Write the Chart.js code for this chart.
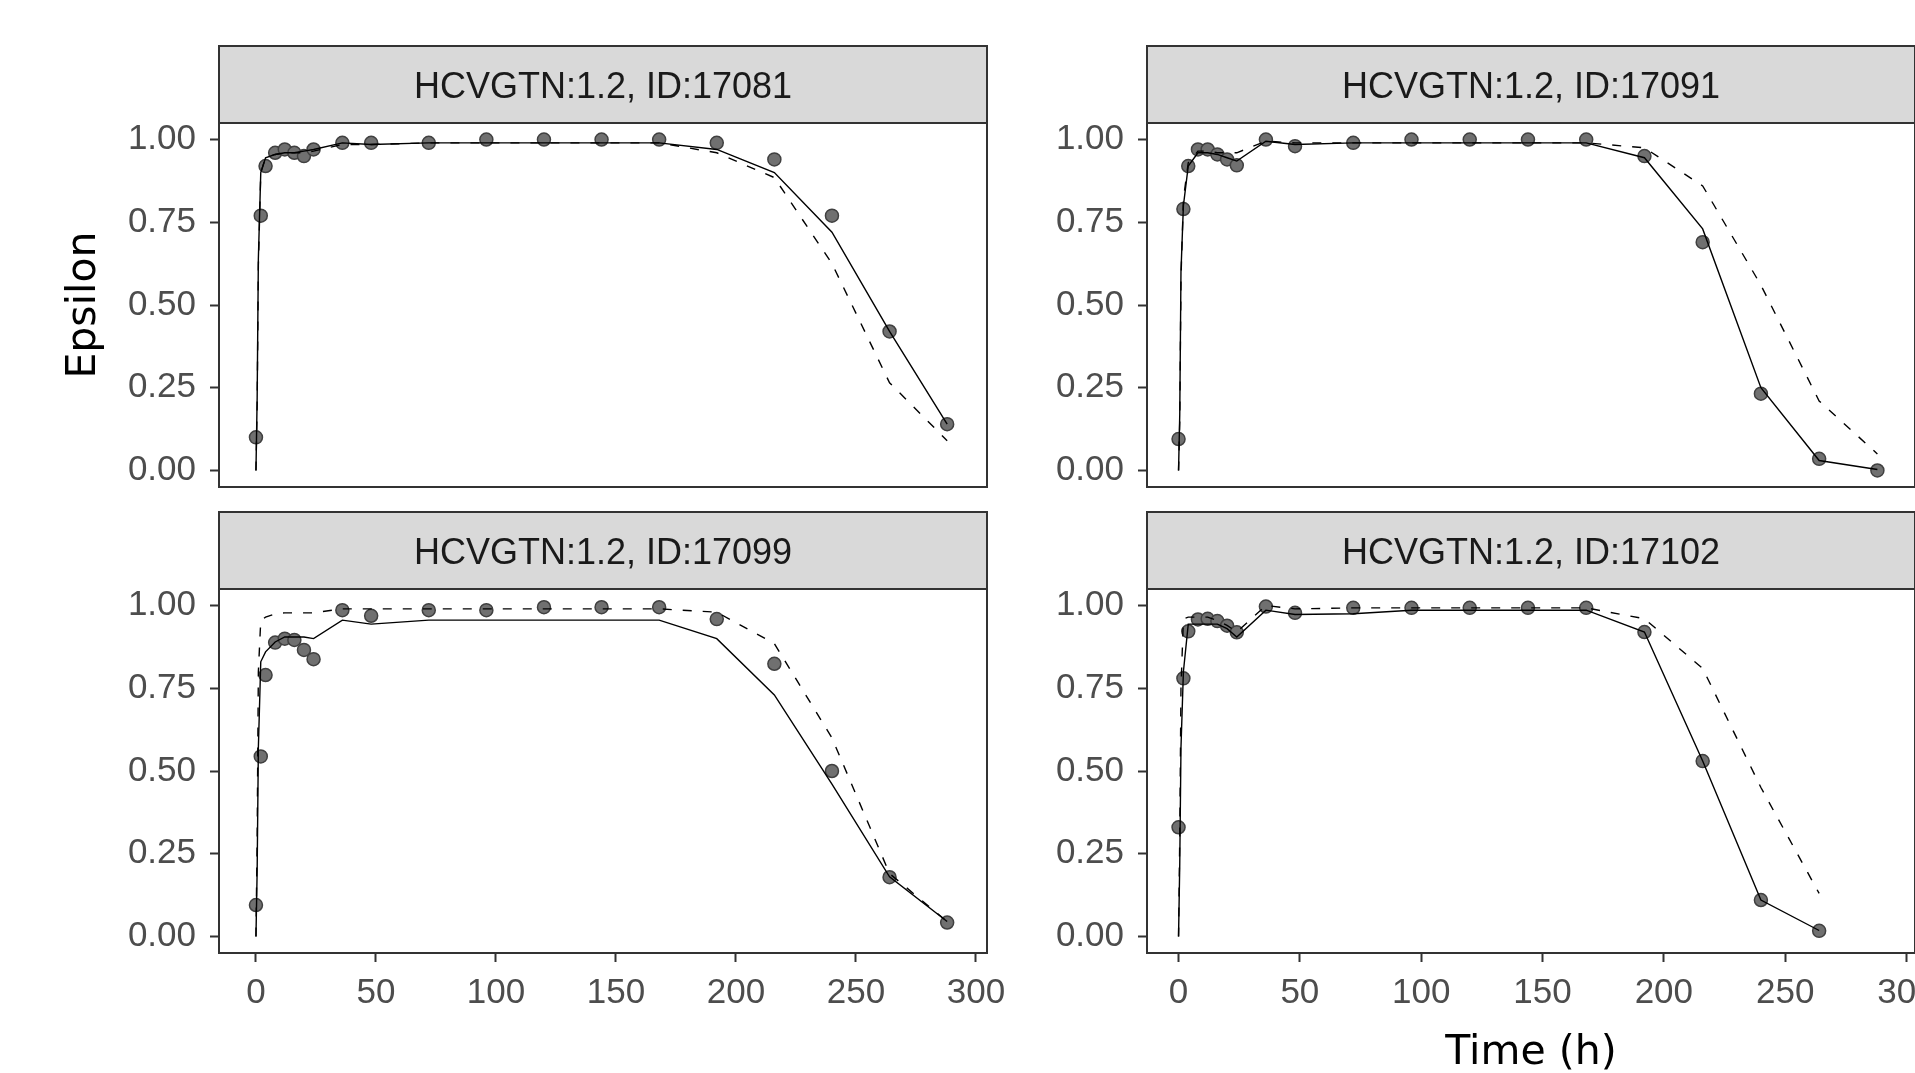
<!DOCTYPE html>
<html>
<head>
<meta charset="utf-8">
<title>Epsilon by time</title>
<script src="https://cdn.jsdelivr.net/npm/chart.js@4/dist/chart.umd.min.js"></script>
<style>
  html, body { margin: 0; padding: 0; background: #fff; overflow: hidden; }
  body { width: 1915px; height: 1073px; position: relative; }
  canvas { position: absolute; }
</style>
</head>
<body>
<canvas id="p17081" width="1020" height="500" style="left:0px;top:0px"></canvas>
<canvas id="p17091" width="990" height="500" style="left:928px;top:0px"></canvas>
<canvas id="p17099" width="1020" height="607" style="left:0px;top:466px"></canvas>
<canvas id="p17102" width="990" height="607" style="left:928px;top:466px"></canvas>
<script>
// sampling times (h)
var obsTimes = [0, 2, 4, 8, 12, 16, 20, 24, 36, 48, 72, 96, 120, 144, 168, 192, 216, 240, 264, 288];
var predTimes = [0, 0.5, 1, 2, 4, 8, 12, 16, 20, 24, 36, 48, 72, 96, 120, 144, 168, 192, 216, 240, 264, 288];
var yTicks = [0, 0.25, 0.5, 0.75, 1];
var xTicks = [0, 50, 100, 150, 200, 250, 300];
// visible time window of the left and right column
var xRangeLeft = [-15.4, 304.6];
var xRangeRight = [-13.0, 303.5];

// ID 17081
var obs17081 = [0.10, 0.77, 0.92, 0.96, 0.97, 0.96, 0.95, 0.97, 0.99, 0.99, 0.99, 1.00, 1.00, 1.00, 1.00, 0.99, 0.94, 0.77, 0.42, 0.14];
var solid17081 = [0, 0.22, 0.64, 0.90, 0.945, 0.955, 0.96, 0.96, 0.965, 0.97, 0.99, 0.985, 0.99, 0.99, 0.99, 0.99, 0.99, 0.97, 0.90, 0.72, 0.42, 0.14];
var dashed17081 = [0, 0.20, 0.62, 0.90, 0.945, 0.955, 0.96, 0.96, 0.96, 0.965, 0.985, 0.985, 0.99, 0.99, 0.99, 0.99, 0.99, 0.96, 0.885, 0.625, 0.265, 0.09];

// ID 17091
var obs17091 = [0.095, 0.79, 0.92, 0.97, 0.97, 0.955, 0.94, 0.922, 1.0, 0.98, 0.99, 1.0, 1.0, 1.0, 1.0, 0.95, 0.69, 0.232, 0.035, 0.0];
var solid17091 = [0, 0.17, 0.60, 0.80, 0.92, 0.96, 0.96, 0.955, 0.945, 0.935, 0.995, 0.985, 0.99, 0.99, 0.99, 0.99, 0.99, 0.945, 0.73, 0.25, 0.03, 0.003];
var dashed17091 = [0, 0.15, 0.58, 0.82, 0.93, 0.965, 0.965, 0.96, 0.96, 0.96, 0.995, 0.99, 0.99, 0.99, 0.99, 0.99, 0.99, 0.975, 0.86, 0.56, 0.21, 0.05];

// ID 17099
var obs17099 = [0.095, 0.544, 0.79, 0.888, 0.90, 0.896, 0.866, 0.838, 0.986, 0.969, 0.986, 0.986, 0.995, 0.995, 0.995, 0.959, 0.824, 0.50, 0.179, 0.042];
var solid17099 = [0, 0.20, 0.57, 0.83, 0.86, 0.89, 0.905, 0.905, 0.905, 0.90, 0.956, 0.944, 0.956, 0.956, 0.956, 0.956, 0.956, 0.90, 0.73, 0.46, 0.18, 0.045];
var dashed17099 = [0, 0.30, 0.80, 0.955, 0.965, 0.975, 0.978, 0.978, 0.978, 0.978, 0.99, 0.99, 0.99, 0.99, 0.99, 0.99, 0.99, 0.98, 0.885, 0.60, 0.19, 0.045];

// ID 17102 (stops at 264 h)
var obs17102 = [0.33, 0.78, 0.922, 0.958, 0.96, 0.953, 0.939, 0.919, 0.997, 0.978, 0.993, 0.993, 0.993, 0.993, 0.993, 0.92, 0.53, 0.11, 0.017];
var solid17102 = [0, 0.22, 0.57, 0.80, 0.944, 0.944, 0.944, 0.944, 0.93, 0.905, 0.986, 0.973, 0.975, 0.986, 0.986, 0.986, 0.986, 0.92, 0.53, 0.11, 0.018];
var dashed17102 = [0, 0.30, 0.75, 0.96, 0.965, 0.965, 0.965, 0.955, 0.94, 0.92, 1.0, 0.99, 0.993, 0.993, 0.993, 0.993, 0.993, 0.96, 0.81, 0.45, 0.13];

var tickFont = { family: "'Liberation Sans', Arial, sans-serif", size: 35 };
var titleFont = { family: "'DejaVu Sans', sans-serif", size: 41 };

function pairs(times, values) {
  return values.map(function (v, i) { return { x: times[i], y: v }; });
}

// grey facet strip on top + dark frame round the panel
var panelFrame = {
  id: 'panelFrame',
  afterDraw: function (chart, args, opts) {
    var a = chart.chartArea;
    var ctx = chart.ctx;
    var w = a.right - a.left;
    ctx.save();
    ctx.lineWidth = 2;
    ctx.strokeStyle = '#333333';
    ctx.fillStyle = '#d9d9d9';
    ctx.fillRect(a.left, a.top - 77, w, 77);
    ctx.strokeRect(a.left, a.top - 77, w, 77);
    ctx.strokeRect(a.left, a.top, w, a.bottom - a.top);
    ctx.fillStyle = '#1a1a1a';
    ctx.font = "36px 'Liberation Sans', Arial, sans-serif";
    ctx.textAlign = 'center';
    ctx.textBaseline = 'middle';
    ctx.fillText(opts.label, (a.left + a.right) / 2, a.top - 35);
    ctx.restore();
  }
};

function makePanel(id, label, obs, solid, dashed, xRange, bottomRow, yTitle, xTitle) {
  var canvas = document.getElementById(id);
  var ctx = canvas.getContext('2d');
  return new Chart(ctx, {
    type: 'line',
    data: {
      datasets: [
        {
          data: pairs(predTimes, solid),
          borderColor: '#000000', borderWidth: 1.4,
          pointRadius: 0, tension: 0, fill: false
        },
        {
          data: pairs(predTimes, dashed),
          borderColor: '#000000', borderWidth: 1.4, borderDash: [9, 11],
          pointRadius: 0, tension: 0, fill: false
        },
        {
          data: pairs(obsTimes, obs),
          showLine: false,
          pointRadius: 6.5,
          pointBackgroundColor: '#707070',
          pointBorderColor: '#404040',
          pointBorderWidth: 1.5
        }
      ]
    },
    options: {
      responsive: false,
      animation: false,
      layout: {
        autoPadding: false,
        padding: { top: 123, right: canvas.width - 987, bottom: bottomRow ? 0 : 13, left: 0 }
      },
      plugins: {
        legend: { display: false },
        tooltip: { enabled: false },
        panelFrame: { label: label }
      },
      scales: {
        x: {
          type: 'linear',
          min: xRange[0],
          max: xRange[1],
          display: bottomRow,
          afterBuildTicks: function (s) {
            s.ticks = xTicks.map(function (v) { return { value: v }; });
          },
          afterFit: function (s) {
            s.height = bottomRow ? 120 : 0;
            s.paddingLeft = 0;
            s.paddingRight = 0;
          },
          border: { display: false },
          grid: {
            drawOnChartArea: false, drawTicks: true, tickLength: 9,
            tickColor: '#333333', tickWidth: 2
          },
          ticks: {
            autoSkip: false, maxRotation: 0, padding: 10,
            color: '#4d4d4d', font: tickFont,
            callback: function (v) { return String(v); }
          },
          title: {
            display: xTitle, text: 'Time (h)', color: '#000000',
            font: titleFont, padding: { top: 0, bottom: -5 }
          }
        },
        y: {
          type: 'linear',
          min: -0.05,
          max: 1.05,
          afterBuildTicks: function (s) {
            s.ticks = yTicks.map(function (v) { return { value: v }; });
          },
          afterFit: function (s) {
            s.width = 219;
            s.paddingTop = 0;
            s.paddingBottom = 0;
          },
          border: { display: false },
          grid: {
            drawOnChartArea: false, drawTicks: true, tickLength: 9,
            tickColor: '#333333', tickWidth: 2
          },
          ticks: {
            padding: 14, color: '#4d4d4d', font: tickFont,
            callback: function (v) { return v.toFixed(2); }
          },
          title: {
            display: yTitle, text: 'Epsilon', color: '#000000',
            font: titleFont, padding: { top: 60, bottom: 0 }
          }
        }
      }
    },
    plugins: [panelFrame]
  });
}

makePanel('p17081', 'HCVGTN:1.2, ID:17081', obs17081, solid17081, dashed17081, xRangeLeft, false, true, false);
makePanel('p17091', 'HCVGTN:1.2, ID:17091', obs17091, solid17091, dashed17091, xRangeRight, false, false, false);
makePanel('p17099', 'HCVGTN:1.2, ID:17099', obs17099, solid17099, dashed17099, xRangeLeft, true, false, false);
makePanel('p17102', 'HCVGTN:1.2, ID:17102', obs17102, solid17102, dashed17102, xRangeRight, true, false, true);
</script>
</body>
</html>
